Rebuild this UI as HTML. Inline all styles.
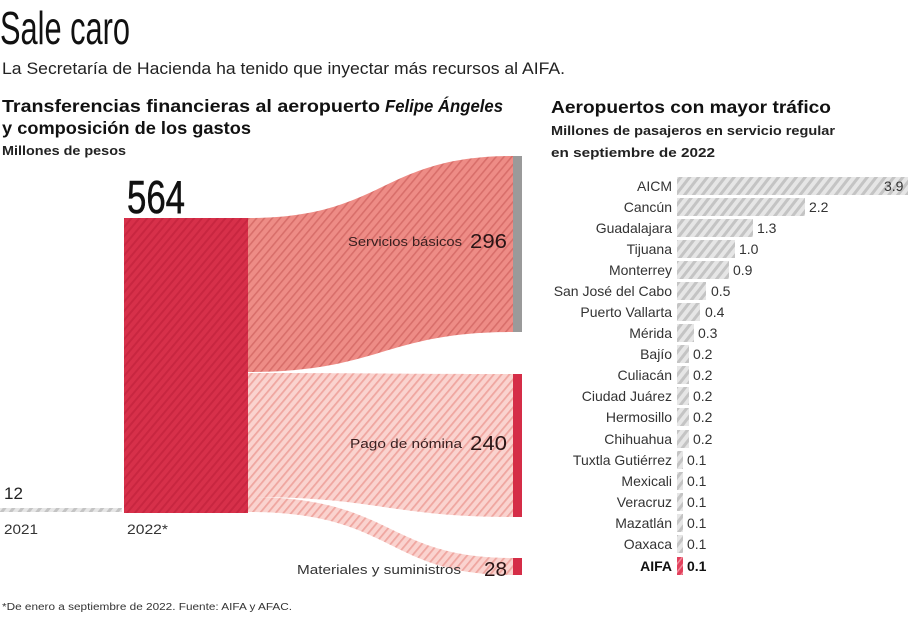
<!DOCTYPE html>
<html>
<head>
<meta charset="utf-8">
<style>
  html, body { margin: 0; padding: 0; background: #fff; }
  body { width: 908px; height: 620px; overflow: hidden; }
  svg { display: block; }
  text { font-family: "Liberation Sans", "DejaVu Sans", sans-serif; }
</style>
</head>
<body>
<svg width="908" height="620" viewBox="0 0 908 620" xmlns="http://www.w3.org/2000/svg">
  <defs>
    <pattern id="pRed" width="6" height="6" patternUnits="userSpaceOnUse" patternTransform="rotate(40)">
      <rect width="6" height="6" fill="#d7304a"/>
      <rect width="2" height="6" fill="#c82640"/>
    </pattern>
    <pattern id="pSalmon" width="6" height="6" patternUnits="userSpaceOnUse" patternTransform="rotate(40)">
      <rect width="6" height="6" fill="#ee8c86"/>
      <rect width="1.6" height="6" fill="#d86e6a"/>
    </pattern>
    <pattern id="pPink" width="6" height="6" patternUnits="userSpaceOnUse" patternTransform="rotate(40)">
      <rect width="6" height="6" fill="#fad3cf"/>
      <rect width="1.8" height="6" fill="#efa6a0"/>
    </pattern>
    <pattern id="pGray" width="7" height="7" patternUnits="userSpaceOnUse" patternTransform="rotate(38)">
      <rect width="7" height="7" fill="#e6e6e6"/>
      <rect width="3" height="7" fill="#c4c4c4"/>
    </pattern>
    <pattern id="pAifa" width="5" height="5" patternUnits="userSpaceOnUse" patternTransform="rotate(38)">
      <rect width="5" height="5" fill="#e2405c"/>
      <rect width="1.5" height="5" fill="#f08a9a"/>
    </pattern>
  </defs>

  <!-- Title -->
  <text x="0" y="44" font-size="46" fill="#111" textLength="130" lengthAdjust="spacingAndGlyphs">Sale caro</text>
  <text x="2" y="74" font-size="17" fill="#222" textLength="563" lengthAdjust="spacingAndGlyphs">La Secretaría de Hacienda ha tenido que inyectar más recursos al AIFA.</text>

  <!-- Left headers -->
  <text x="2" y="112" font-size="17.5" font-weight="bold" fill="#111" textLength="378" lengthAdjust="spacingAndGlyphs">Transferencias financieras al aeropuerto</text>
  <text x="385" y="112" font-size="17.5" font-weight="bold" font-style="italic" fill="#111" textLength="118" lengthAdjust="spacingAndGlyphs">Felipe Ángeles</text>
  <text x="2" y="134" font-size="17.5" font-weight="bold" fill="#111" textLength="249" lengthAdjust="spacingAndGlyphs">y composición de los gastos</text>
  <text x="2" y="155" font-size="13" font-weight="bold" fill="#222" textLength="124" lengthAdjust="spacingAndGlyphs">Millones de pesos</text>

  <!-- Right headers -->
  <text x="551" y="113" font-size="17.5" font-weight="bold" fill="#111" textLength="280" lengthAdjust="spacingAndGlyphs">Aeropuertos con mayor tráfico</text>
  <text x="551" y="135" font-size="13" font-weight="bold" fill="#222" textLength="284" lengthAdjust="spacingAndGlyphs">Millones de pasajeros en servicio regular</text>
  <text x="551" y="157" font-size="13" font-weight="bold" fill="#222" textLength="164" lengthAdjust="spacingAndGlyphs">en septiembre de 2022</text>

  <!-- Sankey -->
  <path d="M248,218 C385,218 380,156 513,156 L513,332 C385,332 380,372 248,372 Z" fill="url(#pSalmon)"/>
  <path d="M248,373 C380,373 380,374 513,374 L513,517 C390,517 380,497 248,497 Z" fill="url(#pPink)"/>
  <path d="M248,497 C395,497 385,558 513,558 L513,575 C385,575 395,512 248,512 Z" fill="url(#pPink)"/>
  <rect x="124" y="218" width="124" height="295" fill="url(#pRed)"/>
  <rect x="513" y="156" width="9" height="176" fill="#9a9a9a"/>
  <rect x="513" y="374" width="9" height="143" fill="#d52d47"/>
  <rect x="513" y="558" width="9" height="17" fill="#d52d47"/>

  <!-- 2021 line -->
  <rect x="0" y="508" width="122" height="4" fill="url(#pGray)"/>

  <text x="127" y="213" font-size="46" fill="#111" stroke="#111" stroke-width="0.6" textLength="58" lengthAdjust="spacingAndGlyphs">564</text>
  <text x="4" y="499" font-size="17" fill="#222">12</text>
  <text x="4" y="534" font-size="14" fill="#333" textLength="34" lengthAdjust="spacingAndGlyphs">2021</text>
  <text x="127" y="534" font-size="14" fill="#333" textLength="41" lengthAdjust="spacingAndGlyphs">2022*</text>

  <text x="348" y="246" font-size="13" fill="#3a2020" textLength="114" lengthAdjust="spacingAndGlyphs">Servicios básicos</text>
  <text x="470" y="248" font-size="20" fill="#2a1515" textLength="37" lengthAdjust="spacingAndGlyphs">296</text>
  <text x="350" y="448" font-size="13" fill="#3a2020" textLength="112" lengthAdjust="spacingAndGlyphs">Pago de nómina</text>
  <text x="470" y="450" font-size="20" fill="#2a1515" textLength="37" lengthAdjust="spacingAndGlyphs">240</text>
  <text x="297" y="574" font-size="13" fill="#333" textLength="164" lengthAdjust="spacingAndGlyphs">Materiales y suministros</text>
  <text x="484" y="576" font-size="20" fill="#2a1515" textLength="23" lengthAdjust="spacingAndGlyphs">28</text>

  <text x="2" y="610" font-size="10" fill="#333" textLength="290" lengthAdjust="spacingAndGlyphs">*De enero a septiembre de 2022. Fuente: AIFA y AFAC.</text>

  <!-- Right bar chart -->
  <g font-size="14" fill="#333">
    <rect x="677" y="177" width="231" height="18" fill="url(#pGray)"/>
    <text x="672" y="191" text-anchor="end">AICM</text>
    <text x="884" y="191">3.9</text>

    <rect x="677" y="198" width="128" height="18" fill="url(#pGray)"/>
    <text x="672" y="212" text-anchor="end">Cancún</text>
    <text x="809" y="212">2.2</text>

    <rect x="677" y="219" width="76" height="18" fill="url(#pGray)"/>
    <text x="672" y="233" text-anchor="end">Guadalajara</text>
    <text x="757" y="233">1.3</text>

    <rect x="677" y="240" width="58" height="18" fill="url(#pGray)"/>
    <text x="672" y="254" text-anchor="end">Tijuana</text>
    <text x="739" y="254">1.0</text>

    <rect x="677" y="261" width="52" height="18" fill="url(#pGray)"/>
    <text x="672" y="275" text-anchor="end">Monterrey</text>
    <text x="733" y="275">0.9</text>

    <rect x="677" y="282" width="29" height="18" fill="url(#pGray)"/>
    <text x="672" y="296" text-anchor="end">San José del Cabo</text>
    <text x="711" y="296">0.5</text>

    <rect x="677" y="303" width="23" height="18" fill="url(#pGray)"/>
    <text x="672" y="317" text-anchor="end">Puerto Vallarta</text>
    <text x="705" y="317">0.4</text>

    <rect x="677" y="324" width="17" height="18" fill="url(#pGray)"/>
    <text x="672" y="338" text-anchor="end">Mérida</text>
    <text x="698" y="338">0.3</text>

    <rect x="677" y="345" width="12" height="18" fill="url(#pGray)"/>
    <text x="672" y="359" text-anchor="end">Bajío</text>
    <text x="693" y="359">0.2</text>

    <rect x="677" y="366" width="12" height="18" fill="url(#pGray)"/>
    <text x="672" y="380" text-anchor="end">Culiacán</text>
    <text x="693" y="380">0.2</text>

    <rect x="677" y="387" width="12" height="18" fill="url(#pGray)"/>
    <text x="672" y="401" text-anchor="end">Ciudad Juárez</text>
    <text x="693" y="401">0.2</text>

    <rect x="677" y="408" width="12" height="18" fill="url(#pGray)"/>
    <text x="672" y="422" text-anchor="end">Hermosillo</text>
    <text x="693" y="422">0.2</text>

    <rect x="677" y="430" width="12" height="18" fill="url(#pGray)"/>
    <text x="672" y="444" text-anchor="end">Chihuahua</text>
    <text x="693" y="444">0.2</text>

    <rect x="677" y="451" width="6" height="18" fill="url(#pGray)"/>
    <text x="672" y="465" text-anchor="end">Tuxtla Gutiérrez</text>
    <text x="687" y="465">0.1</text>

    <rect x="677" y="472" width="6" height="18" fill="url(#pGray)"/>
    <text x="672" y="486" text-anchor="end">Mexicali</text>
    <text x="687" y="486">0.1</text>

    <rect x="677" y="493" width="6" height="18" fill="url(#pGray)"/>
    <text x="672" y="507" text-anchor="end">Veracruz</text>
    <text x="687" y="507">0.1</text>

    <rect x="677" y="514" width="6" height="18" fill="url(#pGray)"/>
    <text x="672" y="528" text-anchor="end">Mazatlán</text>
    <text x="687" y="528">0.1</text>

    <rect x="677" y="535" width="6" height="18" fill="url(#pGray)"/>
    <text x="672" y="549" text-anchor="end">Oaxaca</text>
    <text x="687" y="549">0.1</text>

    <rect x="677" y="557" width="6" height="18" fill="url(#pAifa)"/>
    <text x="672" y="571" text-anchor="end" font-weight="bold" fill="#111">AIFA</text>
    <text x="687" y="571" font-weight="bold" fill="#111">0.1</text>
  </g>
</svg>
</body>
</html>
